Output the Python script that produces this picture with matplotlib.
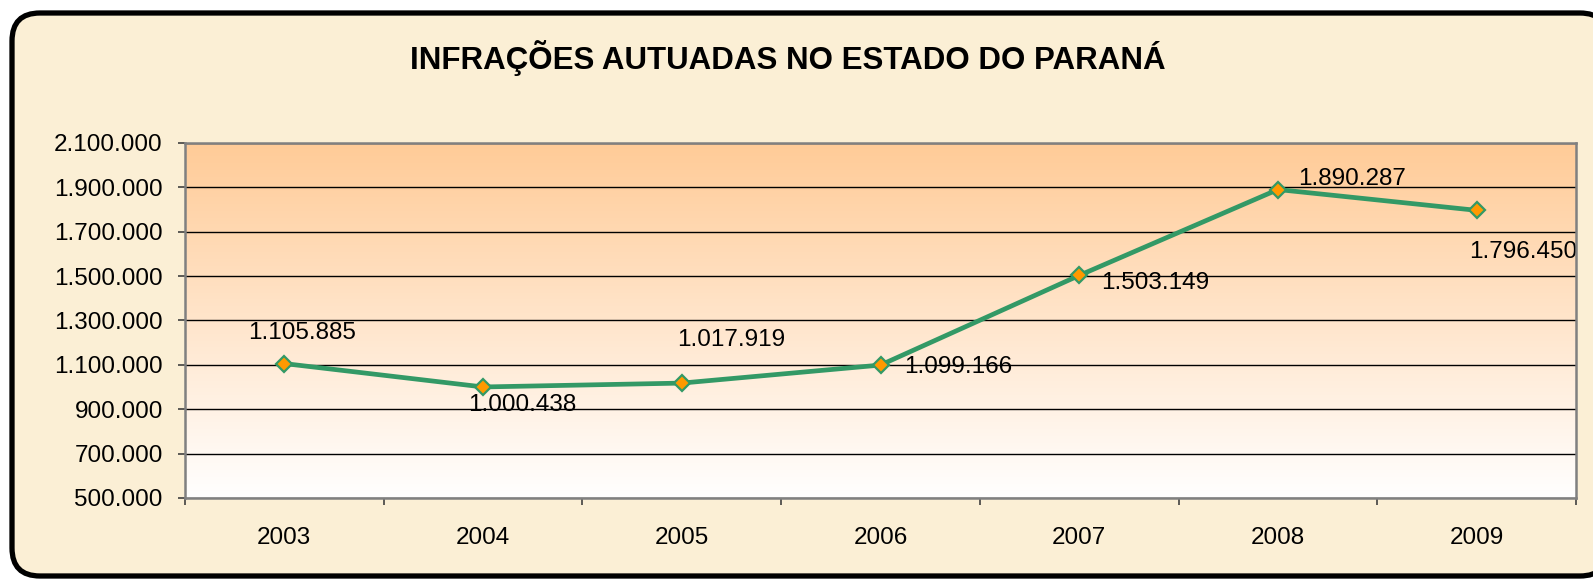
import matplotlib.pyplot as plt
import numpy as np
from matplotlib.patches import FancyBboxPatch
from matplotlib.ticker import FuncFormatter

years = ['2003', '2004', '2005', '2006', '2007', '2008', '2009']
infracoes = [1105885, 1000438, 1017919, 1099166, 1503149, 1890287, 1796450]
rotulos = ['1.105.885', '1.000.438', '1.017.919', '1.099.166', '1.503.149', '1.890.287', '1.796.450']
yticks = np.arange(500000, 2100001, 200000)

# label offsets in pixels (dx right, dy down) relative to the markers
offsets = [(18, -31), (39, 18), (49, -43), (78, 2), (76, 8), (74, -11), (47, 42)]

W, H = 1593, 581
fig = plt.figure(figsize=(W / 100, H / 100), dpi=100)
fig.patch.set_facecolor('white')

# background axes in pixel units for the rounded parchment panel
bg = fig.add_axes([0, 0, 1, 1], zorder=-1)
bg.set_xlim(0, W); bg.set_ylim(H, 0)
bg.axis('off')
panel = FancyBboxPatch((12, 13), 1596, 563,
                       boxstyle='round,pad=0,rounding_size=28',
                       facecolor='#FBEFD5', edgecolor='black', linewidth=3.8,
                       clip_on=False)
bg.add_patch(panel)

ax = fig.add_axes([185 / W, 83 / H, 1391 / W, 355 / H])
ax.set_xlim(-0.5, 6.5)

# vertical orange -> white gradient
grad = np.linspace(0, 1, 256).reshape(-1, 1)
top = np.array([255, 203, 151]) / 255
bot = np.array([255, 255, 255]) / 255
img = top[None, None, :] * (1 - grad[:, :, None]) + bot[None, None, :] * grad[:, :, None]
ax.imshow(img, extent=(-0.5, 6.5, 500000, 2100000), origin='upper', aspect='auto', zorder=0)
ax.set_ylim(500000, 2100000)

ax.set_yticks(yticks)
ax.yaxis.set_major_formatter(FuncFormatter(lambda v, p: f'{int(v):,}'.replace(',', '.')))
ax.grid(axis='y', color='black', linewidth=1.0, zorder=1)
ax.set_axisbelow(False)

x = np.arange(len(years))
ax.plot(x, infracoes, color='#339966', linewidth=3.4, marker='D', markersize=8.5,
        markerfacecolor='#FF9900', markeredgecolor='#339966', markeredgewidth=1.6, zorder=3)

for xi, yi, lab, (dx, dy) in zip(x, infracoes, rotulos, offsets):
    ax.annotate(lab, (xi, yi), xytext=(dx, -dy), textcoords='offset pixels',
                ha='center', va='center', fontsize=17.5, family='Liberation Sans', zorder=4,
                annotation_clip=False)

ax.set_xticks(x)
ax.set_xticklabels(years)
ax.set_xticks(np.arange(-0.5, 7, 1), minor=True)
ax.tick_params(axis='x', which='major', length=0, pad=21, labelsize=17.5)
ax.tick_params(axis='x', which='minor', length=5, width=1.2, color='#404040', direction='out')
ax.tick_params(axis='y', length=5, width=1.2, color='#404040', pad=11, labelsize=17.5)
for lab in ax.get_xticklabels() + ax.get_yticklabels():
    lab.set_family('Liberation Sans')

for s in ax.spines.values():
    s.set_color('#808080')
    s.set_linewidth(1.8)
    s.set_zorder(5)

fig.text(788 / W, 1 - 58 / H, 'INFRAÇÕES AUTUADAS NO ESTADO DO PARANÁ',
         ha='center', va='center', fontsize=22.5, fontweight='bold', family='Liberation Sans')

fig.savefig('out.png', dpi=100)
